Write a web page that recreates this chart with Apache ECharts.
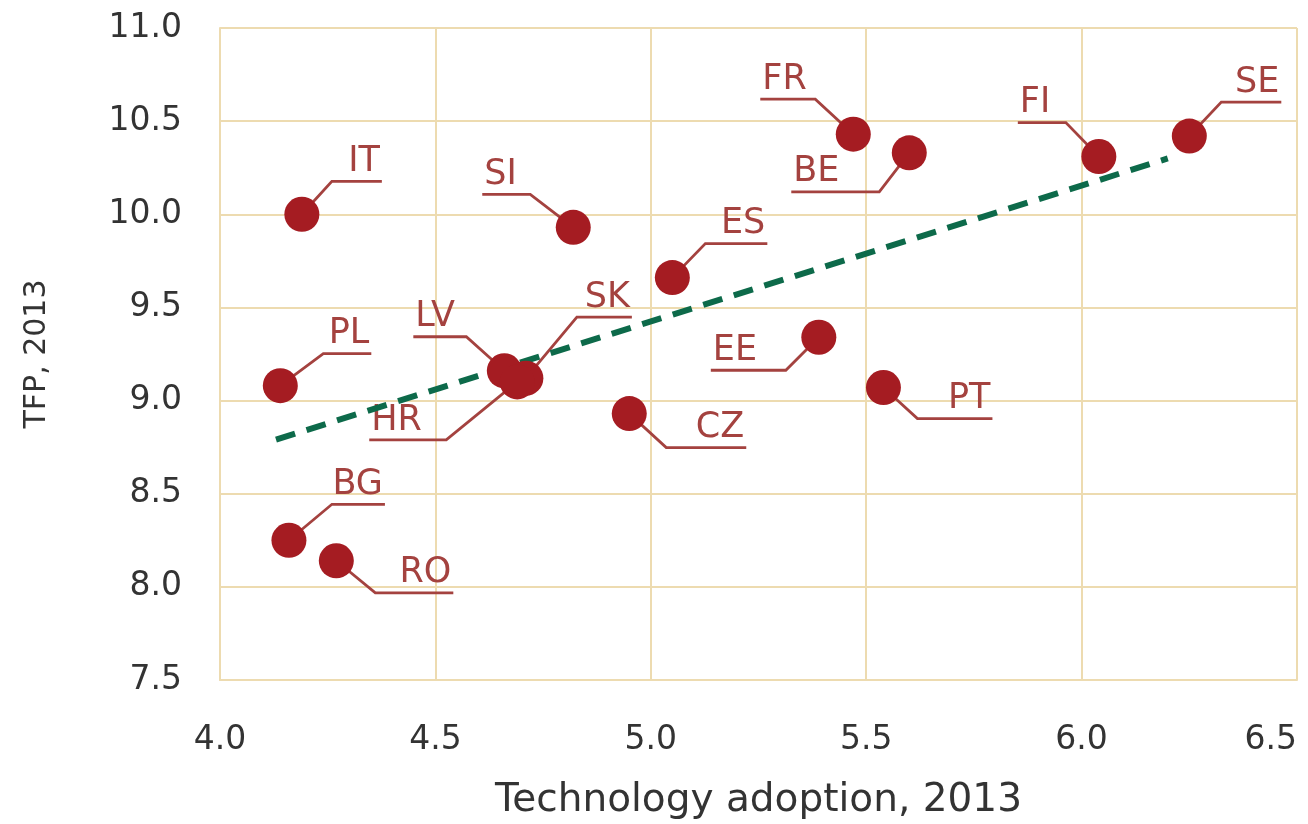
<!DOCTYPE html>
<html>
<head>
<meta charset="utf-8">
<script src="https://cdn.jsdelivr.net/npm/echarts@6/dist/echarts.min.js"></script>
<style>
  html, body { margin: 0; background: #fff; }
  #chart { width: 1308px; height: 824px; }
</style>
</head>
<body>
<div id="chart"></div>
<script>
// data
const countries = ['IT', 'SI', 'FR', 'BE', 'FI', 'SE', 'ES', 'LV', 'SK', 'HR', 'EE', 'PT', 'CZ', 'PL', 'BG', 'RO']
const techAdoption = [4.19, 4.82, 5.47, 5.60, 6.04, 6.25, 5.05, 4.66, 4.71, 4.69, 5.39, 5.54, 4.95, 4.14, 4.16, 4.27]
const tfp = [10.0, 9.93, 10.43, 10.33, 10.31, 10.42, 9.66, 9.16, 9.12, 9.10, 9.34, 9.07, 8.93, 9.08, 8.25, 8.14]
const trendX = [4.13, 6.2]
const trendY = [8.79, 10.3]
const xTicks = [4.0, 4.5, 5.0, 5.5, 6.0, 6.5]
const yTicks = [7.5, 8.0, 8.5, 9.0, 9.5, 10.0, 10.5, 11.0]

// leader line layout in px: [elbow dx, elbow dy, end of underline dx]
const leaders = {
  IT: [30, -33, 80],
  SI: [-43, -33, -91],
  FR: [-38, -35, -93],
  BE: [-30, 39, -118],
  FI: [-33, -34, -81],
  SE: [32, -34, 92],
  ES: [33, -34, 95],
  LV: [-38, -34, -91],
  SK: [51, -61, 106],
  HR: [-71, 58, -148],
  EE: [-33, 33, -108],
  PT: [34, 31, 109],
  CZ: [37, 34, 117],
  PL: [43, -32, 91],
  BG: [43, -36, 96],
  RO: [39, 32, 117],
}

const fontFamily = 'DejaVu Sans'
const red = '#a51c22'
const labelRed = '#a4423f'
const gridColor = '#eddbb0'
const points = countries.map((c, i) => [techAdoption[i], tfp[i]])

const myChart = echarts.init(document.getElementById('chart'))

myChart.setOption({
  animation: false,
  backgroundColor: '#fff',
  grid: { left: 220, right: 11, top: 28, bottom: 144, outerBoundsMode: 'none' },
  xAxis: {
    type: 'value',
    min: xTicks[0],
    max: xTicks[xTicks.length - 1],
    interval: 0.5,
    name: 'Technology adoption, 2013',
    nameLocation: 'middle',
    nameGap: 101,
    nameTextStyle: { fontFamily, fontSize: 39, color: '#333' },
    axisLine: { lineStyle: { color: gridColor, width: 2 } },
    axisTick: { show: false },
    axisLabel: {
      margin: 44,
      fontFamily,
      fontSize: 33,
      color: '#333',
      alignMaxLabel: 'right',
      formatter: (v) => v.toFixed(1),
    },
    splitLine: { show: true, lineStyle: { color: gridColor, width: 2 } },
  },
  yAxis: {
    type: 'value',
    min: yTicks[0],
    max: yTicks[yTicks.length - 1],
    interval: 0.5,
    name: 'TFP, 2013',
    nameLocation: 'middle',
    nameGap: 168,
    nameTextStyle: { fontFamily, fontSize: 30, color: '#333' },
    axisLine: { show: true, lineStyle: { color: gridColor, width: 2 } },
    axisTick: { show: false },
    axisLabel: {
      margin: 38,
      fontFamily,
      fontSize: 33,
      color: '#333',
      formatter: (v) => v.toFixed(1),
    },
    splitLine: { show: true, lineStyle: { color: gridColor, width: 2 } },
  },
  series: [
    {
      type: 'custom',
      z: 1,
      data: points,
      renderItem: (params, api) => {
        const name = countries[params.dataIndex]
        const p = api.coord([api.value(0), api.value(1)])
        const [dx, dy, end] = leaders[name]
        const elbow = [p[0] + dx, p[1] + dy]
        const tip = [p[0] + end, p[1] + dy]
        return {
          type: 'group',
          children: [
            {
              type: 'polyline',
              shape: { points: [p, elbow, tip] },
              style: { stroke: labelRed, lineWidth: 2.8, fill: null },
            },
            {
              type: 'text',
              x: end > 0 ? tip[0] - 2 : tip[0] + 2,
              y: tip[1] - 2,
              style: {
                text: name,
                fill: labelRed,
                font: `35px "${fontFamily}"`,
                align: end > 0 ? 'right' : 'left',
                verticalAlign: 'bottom',
              },
            },
          ],
        }
      },
    },
    {
      type: 'line',
      z: 2,
      data: trendX.map((x, i) => [x, trendY[i]]),
      symbol: 'none',
      lineStyle: { color: '#0d6a4a', width: 6, type: [20, 12] },
    },
    {
      type: 'scatter',
      z: 3,
      data: points,
      symbolSize: 35,
      itemStyle: { color: red, opacity: 1 },
    },
  ],
})
</script>
</body>
</html>
